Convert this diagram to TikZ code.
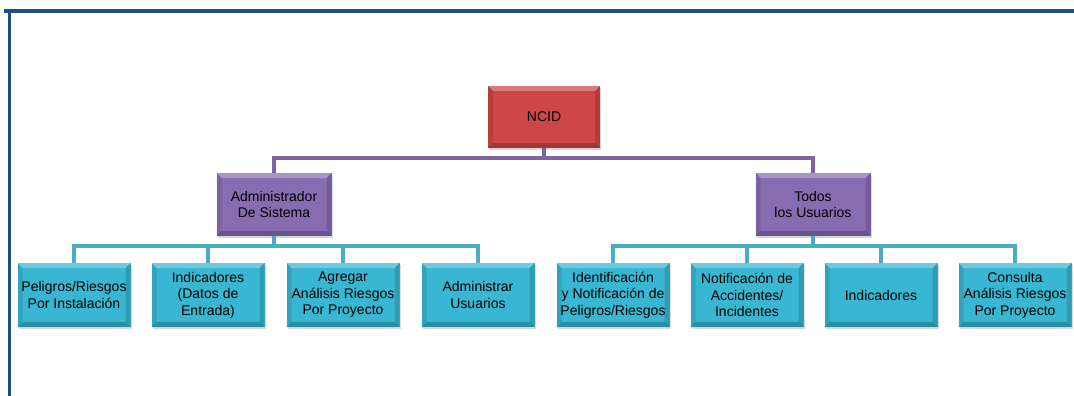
\documentclass[tikz,border=0pt]{standalone}
\usepackage{fontspec}
\setmainfont{Liberation Sans}
\usetikzlibrary{shadows}

\definecolor{framblue}{RGB}{31,78,130}
\definecolor{ncidred}{RGB}{206,70,70}
\definecolor{rolepurple}{RGB}{136,108,178}
\definecolor{taskcyan}{RGB}{56,182,210}
\definecolor{linkpurple}{RGB}{128,100,162}
\definecolor{linkteal}{RGB}{75,172,198}

\tikzset{
  bevel/.style={path picture={
      \coordinate (bnw) at (path picture bounding box.north west);
      \coordinate (bne) at (path picture bounding box.north east);
      \coordinate (bsw) at (path picture bounding box.south west);
      \coordinate (bse) at (path picture bounding box.south east);
      \fill[white,opacity=0.28] (bnw) -- (bne) -- ([shift={(-5pt,-5pt)}]bne)
        -- ([shift={(5pt,-5pt)}]bnw) -- cycle;
      \fill[black,opacity=0.22] (bsw) -- (bse) -- ([shift={(-5pt,5pt)}]bse)
        -- ([shift={(5pt,5pt)}]bsw) -- cycle;
      \fill[black,opacity=0.10] (bnw) -- ([shift={(5pt,-5pt)}]bnw)
        -- ([shift={(5pt,5pt)}]bsw) -- (bsw) -- cycle;
      \fill[black,opacity=0.14] (bne) -- ([shift={(-5pt,-5pt)}]bne)
        -- ([shift={(-5pt,5pt)}]bse) -- (bse) -- cycle;}},
  orgbox/.style={bevel, align=center, inner sep=1pt,
    font=\fontsize{14}{16.5}\selectfont,
    drop shadow={opacity=0.3, shadow xshift=1pt, shadow yshift=-2pt}},
  topbox/.style={orgbox, fill=ncidred, minimum width=112pt, minimum height=62pt},
  rolebox/.style={orgbox, fill=rolepurple, minimum width=115pt, minimum height=63pt},
  taskbox/.style={orgbox, fill=taskcyan, minimum width=113pt, minimum height=64pt},
  purplelink/.style={linkpurple, line width=4pt},
  teallink/.style={linkteal, line width=4pt}
}

\begin{document}
\begin{tikzpicture}[x=1pt, y=-1pt]
  \useasboundingbox (0,0) rectangle (1074,396);

  % frame
  \draw[framblue, line width=4pt] (4,11) -- (1074,11);
  \draw[framblue, line width=3pt] (9.5,11) -- (9.5,396);

  \node[topbox] (ncid) at (544,117) {NCID};

  \node[rolebox] (admin) at (274,204.5) {Administrador\\De Sistema};
  \node[rolebox] (todos) at (813,204.5) {Todos\\los Usuarios};

  \node[taskbox] (peligros) at (74,295) {Peligros/Riesgos\\Por Instalación};
  \node[taskbox] (indicadoresa) at (208,295) {Indicadores\\(Datos de\\Entrada)};
  \node[taskbox] (agregar) at (343,295) {Agregar\\Análisis Riesgos\\Por Proyecto};
  \node[taskbox] (usuarios) at (478,295) {Administrar\\Usuarios};
  \node[taskbox] (identif) at (613,295) {Identificación\\y Notificación de\\Peligros/Riesgos};
  \node[taskbox] (accidentes) at (747,295) {Notificación de\\Accidentes/\\Incidentes};
  \node[taskbox] (indicadoresb) at (881,295) {Indicadores};
  \node[taskbox] (consulta) at (1015,295) {Consulta\\Análisis Riesgos\\Por Proyecto};

  \draw[purplelink] (ncid.south) -- ++(0,10) -| (admin.north);
  \draw[purplelink] (ncid.south) -- ++(0,10) -| (todos.north);
  \foreach \t in {peligros,indicadoresa,agregar,usuarios}
    \draw[teallink] (admin.south) -- ++(0,9.5) -| (\t.north);
  \foreach \t in {identif,accidentes,indicadoresb,consulta}
    \draw[teallink] (todos.south) -- ++(0,9.5) -| (\t.north);
\end{tikzpicture}
\end{document}
